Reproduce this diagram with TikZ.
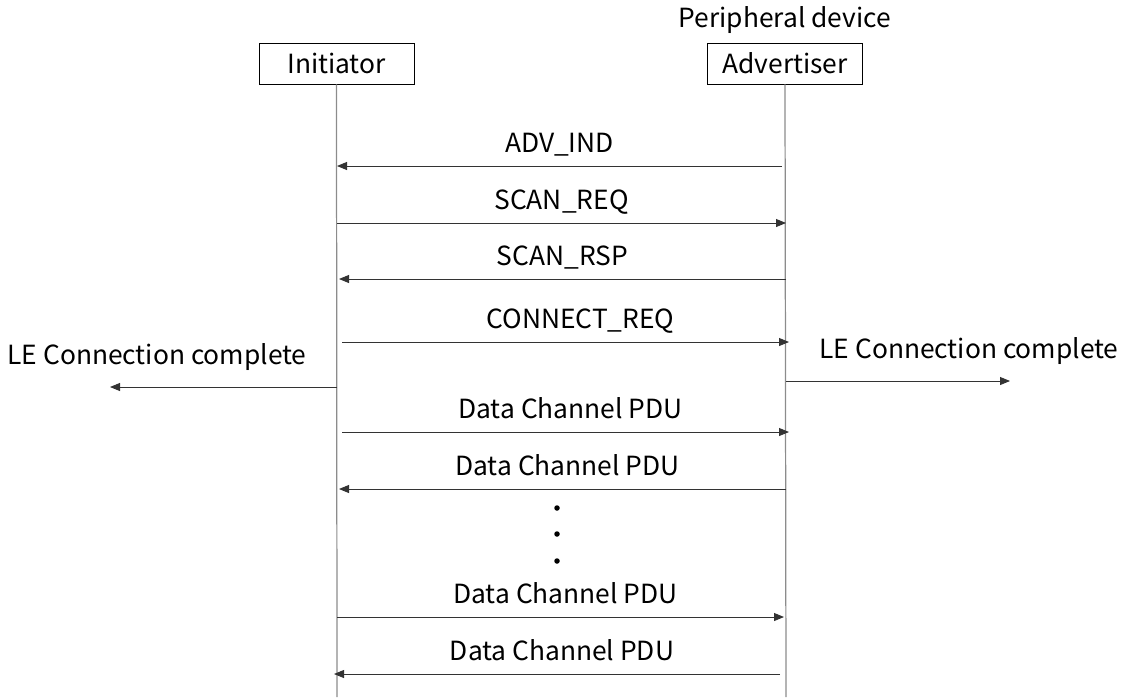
\documentclass[tikz,border=0pt]{standalone}
\usepackage{fontspec}
\setmainfont{Noto Sans CJK JP}
\usepackage{tikz}
\usetikzlibrary{positioning}
\usetikzlibrary{arrows.meta}
\tikzset{party node/.style={rectangle,draw,thin,minimum width=3.1cm,minimum height=0.82cm,inner sep=0pt,font=\fontsize{15pt}{18pt}\selectfont},
         lifeline/.style={draw=black!45,line width=0.7pt},
         msg/.style={draw=black!80,line width=0.5pt,-{Triangle[length=2mm,width=1.6mm]}},
         msg label/.style={anchor=base,yshift=7.8pt,inner sep=0pt,font=\fontsize{15pt}{18pt}\selectfont},
         plain label/.style={inner sep=0pt,font=\fontsize{15pt}{18pt}\selectfont},
         dot node/.style={circle,fill=black,inner sep=0pt,minimum size=1.1mm}
            }

\begin{document}
\begin{tikzpicture}[x=0.02cm,y=-0.02cm]
        \useasboundingbox (0,0) rectangle (1128,697);
        \node[party node] (init) at (336.5,63.5) {Initiator};
        \node[party node] (adv) at (785,63.5) {Advertiser};
        \node[plain label] (periph) [above = 0.18cm of adv] {Peripheral device};

        % lifelines
        \coordinate (init end) at (337,697);
        \coordinate (adv end) at (786,697);
        \path[lifeline] (init.south) -- (init end);
        \path[lifeline] (adv.south) -- (adv end);

        % advertising and connection set-up
        \coordinate (a1) at (782,166); \coordinate (i1) at (337,166);
        \coordinate (i2) at (337,223); \coordinate (a2) at (786,223);
        \coordinate (a3) at (786,279); \coordinate (i3) at (339,279);
        \coordinate (i4) at (342,342); \coordinate (a4) at (789,342);
        \path[msg] (a1) -- node[msg label] {ADV\_IND} (i1);
        \path[msg] (i2) -- node[msg label] {SCAN\_REQ} (a2);
        \path[msg] (a3) -- node[msg label] {SCAN\_RSP} (i3);
        \path[msg] (i4) -- node[msg label,xshift=0.3cm] {CONNECT\_REQ} (a4);

        % host notifications
        \coordinate (i5) at (337,387); \coordinate (host left) at (110,387);
        \coordinate (a5) at (786,381); \coordinate (host right) at (1010,381);
        \path[msg] (i5) -- (host left);
        \path[msg] (a5) -- (host right);
        \node[plain label] (le left) at (157,357) {LE Connection complete};
        \node[plain label] (le right) at (969,351) {LE Connection complete};

        % data exchange
        \coordinate (i6) at (342,432); \coordinate (a6) at (789,432);
        \coordinate (a7) at (786,489); \coordinate (i7) at (339,489);
        \coordinate (i8) at (337,617); \coordinate (a8) at (784,617);
        \coordinate (a9) at (780,674); \coordinate (i9) at (334,674);
        \path[msg] (i6) -- node[msg label,xshift=0.1cm] {Data Channel PDU} (a6);
        \path[msg] (a7) -- node[msg label,xshift=0.1cm] {Data Channel PDU} (i7);
        \path[msg] (i8) -- node[msg label,xshift=0.1cm] {Data Channel PDU} (a8);
        \path[msg] (a9) -- node[msg label,xshift=0.1cm] {Data Channel PDU} (i9);

        \node[dot node] (dot1) at (557,508) {};
        \node[dot node] (dot2) at (557,534) {};
        \node[dot node] (dot3) at (557,561) {};
      \end{tikzpicture}
\end{document}
